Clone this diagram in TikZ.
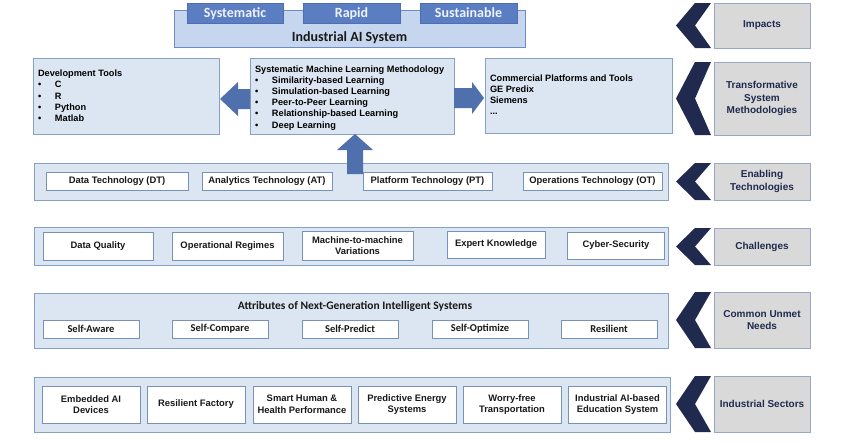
\documentclass[tikz,border=0pt]{standalone}
\usepackage{fontspec}
\setmainfont{Liberation Sans}
\newfontfamily\calfont{Carlito}
\usetikzlibrary{calc,shadows}
\definecolor{panelfill}{RGB}{220,230,242}
\definecolor{panelborder}{RGB}{135,160,198}
\definecolor{boxborder}{RGB}{120,145,185}
\definecolor{iasfill}{RGB}{198,214,238}
\definecolor{iasborder}{RGB}{110,140,190}
\definecolor{tabfill}{RGB}{91,126,194}
\definecolor{tabborder}{RGB}{80,110,175}
\definecolor{tabtext}{RGB}{238,242,250}
\definecolor{greyfill}{RGB}{217,217,217}
\definecolor{greyborder}{RGB}{150,168,196}
\definecolor{navy}{RGB}{31,42,78}
\definecolor{arrowc}{RGB}{79,111,173}
\definecolor{textdark}{RGB}{25,25,25}
\newcommand\lbul[1]{\makebox[17pt][l]{\textbullet}#1}
\newcommand\mychev[1]{\fill[chevc] ($(#1.west)+(-38,0)$) -- ($(#1.north west)+(-19,0)$) -- ($(#1.north west)+(-3,0)$) -- ($(#1.west)+(-19,0)$) -- ($(#1.south west)+(-3,0)$) -- ($(#1.south west)+(-19,0)$) -- cycle;}
\tikzset{
 base/.style={inner sep=0pt, outer sep=0pt},
 panel/.style={base, draw=panelborder, fill=panelfill, line width=0.8pt, drop shadow={opacity=0.18, shadow xshift=1pt, shadow yshift=-1.2pt}},
 inbox/.style={base, draw=boxborder, fill=white, line width=0.7pt, align=center, text=textdark, font=\fontsize{9.4}{11.5}\selectfont\bfseries},
 calbox/.style={inbox, font=\calfont\fontsize{10.5}{12}\selectfont\bfseries},
 glabel/.style={base, draw=greyborder, fill=greyfill, line width=0.8pt, text=navy, align=center, font=\fontsize{10}{12.5}\selectfont\bfseries, minimum width=96pt},
 tab/.style={base, draw=tabborder, fill=tabfill, text=tabtext, font=\calfont\fontsize{14}{16}\selectfont\bfseries, minimum height=20pt, text height=10.5pt, text depth=1pt},
 listtext/.style={base, anchor=north west, align=left, text=black, font=\fontsize{9.2}{11.2}\selectfont\bfseries},
 caltitle/.style={base, text=textdark, font=\calfont\bfseries},
 barrow/.style={fill=arrowc},
 chevc/.style={fill=navy},
}
\begin{document}
\begin{tikzpicture}[x=1pt,y=-1pt]
\useasboundingbox[fill=white] (0,0) rectangle (850,442);

% ---------- Impacts row
\node[base, draw=iasborder, fill=iasfill, line width=0.8pt, minimum width=351pt, minimum height=37pt, drop shadow={opacity=0.18, shadow xshift=1pt, shadow yshift=-1.2pt}] (ias) at (349.5,28.5) {};
\node[caltitle, font=\calfont\fontsize{14}{16}\selectfont\bfseries] (iastext) at (349.5,37.5) {Industrial AI System};
\node[tab, minimum width=96pt] (t1) at (235,13) {Systematic};
\node[tab, minimum width=97pt] (t2) at (351.5,13) {Rapid};
\node[tab, minimum width=97pt] (t3) at (468.5,13) {Sustainable};

% ---------- Transformative row
\node[panel, minimum width=186pt, minimum height=76pt] (dev) at (126,96) {};
\node[panel, minimum width=204pt, minimum height=76pt] (mid) at (352,96) {};
\node[panel, minimum width=187pt, minimum height=75pt] (com) at (578.5,95.5) {};
\node[listtext] (devtext) at (38,70) {Development Tools\\\lbul{C}\\\lbul{R}\\\lbul{Python}\\\lbul{Matlab}};
\node[listtext] (midtext) at (255,65.5) {Systematic Machine Learning Methodology\\\lbul{Similarity-based Learning}\\\lbul{Simulation-based Learning}\\\lbul{Peer-to-Peer Learning}\\\lbul{Relationship-based Learning}\\\lbul{Deep Learning}};
\node[listtext] (comtext) at (490,74.5) {Commercial Platforms and Tools\\GE Predix\\Siemens\\...};

% ---------- Enabling row
\node[panel, minimum width=634pt, minimum height=37pt] (enab) at (351,181.5) {};
\node[inbox, minimum width=142pt, minimum height=18pt] (dt) at (117,181.5) {Data Technology (DT)};
\node[inbox, minimum width=130pt, minimum height=18pt] (at) at (267,181.5) {Analytics Technology (AT)};
\node[inbox, minimum width=129pt, minimum height=18pt] (pt) at (427.5,181.5) {Platform Technology (PT)};
\node[inbox, minimum width=139pt, minimum height=18pt] (ot) at (592.5,181.5) {Operations Technology (OT)};

% ---------- Block arrows
\fill[barrow] ($(mid.west)+(0,-7)$) -- ($(mid.west)+(-12,-7)$) -- ($(mid.west)+(-12,-14)$) -- ($(dev.east)+(1,3)$) -- ($(mid.west)+(-12,20)$) -- ($(mid.west)+(-12,13)$) -- ($(mid.west)+(0,13)$) -- cycle;
\fill[barrow] ($(mid.east)+(0,-8)$) -- ($(mid.east)+(18,-8)$) -- ($(mid.east)+(18,-14)$) -- ($(com.west)+(-1,2.5)$) -- ($(mid.east)+(18,18)$) -- ($(mid.east)+(18,12)$) -- ($(mid.east)+(0,12)$) -- cycle;
\fill[barrow] ($(enab.north)+(-4,11)$) -- ($(enab.north)+(-4,-13)$) -- ($(enab.north)+(-14,-13)$) -- ($(mid.south)+(3,0)$) -- ($(enab.north)+(22,-13)$) -- ($(enab.north)+(12,-13)$) -- ($(enab.north)+(12,11)$) -- cycle;

% ---------- Challenges row
\node[panel, minimum width=634pt, minimum height=38pt] (chal) at (351,246) {};
\node[inbox, minimum width=110pt, minimum height=28pt] (dq) at (98,246) {Data Quality};
\node[inbox, minimum width=111pt, minimum height=28pt] (orx) at (227.5,246) {Operational Regimes};
\node[inbox, minimum width=111pt, minimum height=29pt] (m2m) at (357.5,245.5) {Machine-to-machine\\Variations};
\node[inbox, minimum width=98pt, minimum height=27pt] (ek) at (496,244.5) {Expert Knowledge};
\node[inbox, minimum width=97pt, minimum height=27pt] (cs) at (616,245.5) {Cyber-Security};

% ---------- Common unmet needs row
\node[panel, minimum width=634pt, minimum height=55pt] (cun) at (351,320.5) {};
\node[caltitle, font=\calfont\fontsize{11.5}{13}\selectfont\bfseries] (attr) at (355,306) {Attributes of Next-Generation Intelligent Systems};
\node[calbox, minimum width=96pt, minimum height=18pt] (sa) at (91,329) {Self-Aware};
\node[calbox, minimum width=96pt, minimum height=18pt] (sc) at (220,329) {Self-Compare};
\node[calbox, minimum width=96pt, minimum height=18pt] (sp) at (350,329) {Self-Predict};
\node[calbox, minimum width=96pt, minimum height=18pt] (so) at (480,329) {Self-Optimize};
\node[calbox, minimum width=96pt, minimum height=18pt] (rs) at (609,329) {Resilient};

% ---------- Industrial sectors row
\node[panel, minimum width=636pt, minimum height=55pt] (ind) at (352,404.5) {};
\node[inbox, minimum width=98pt, minimum height=37pt] (s1) at (91,404.5) {Embedded AI\\Devices};
\node[inbox, minimum width=98pt, minimum height=37pt] (s2) at (196,404.5) {Resilient Factory};
\node[inbox, minimum width=98pt, minimum height=37pt] (s3) at (302,404.5) {Smart Human \&\\Health Performance};
\node[inbox, minimum width=98pt, minimum height=37pt] (s4) at (407,404.5) {Predictive Energy\\Systems};
\node[inbox, minimum width=98pt, minimum height=37pt] (s5) at (512,404.5) {Worry-free\\Transportation};
\node[inbox, minimum width=98pt, minimum height=37pt] (s6) at (617.5,404.5) {Industrial AI-based\\Education System};

% ---------- Right-hand labels and chevrons
\node[glabel, minimum height=45pt] (lImp) at (762,25.5) {Impacts};
\node[glabel, minimum height=73pt] (lTra) at (762,98.5) {Transformative\\System\\Methodologies};
\node[glabel, minimum height=37pt] (lEna) at (762,181.5) {Enabling\\Technologies};
\node[glabel, minimum height=37pt] (lCha) at (762,246.5) {Challenges};
\node[glabel, minimum height=56pt] (lCom) at (762,320) {Common Unmet\\Needs};
\node[glabel, minimum height=56pt] (lInd) at (762,404) {Industrial Sectors};
\mychev{lImp}
\mychev{lTra}
\mychev{lEna}
\mychev{lCha}
\mychev{lCom}
\mychev{lInd}
\end{tikzpicture}
\end{document}
